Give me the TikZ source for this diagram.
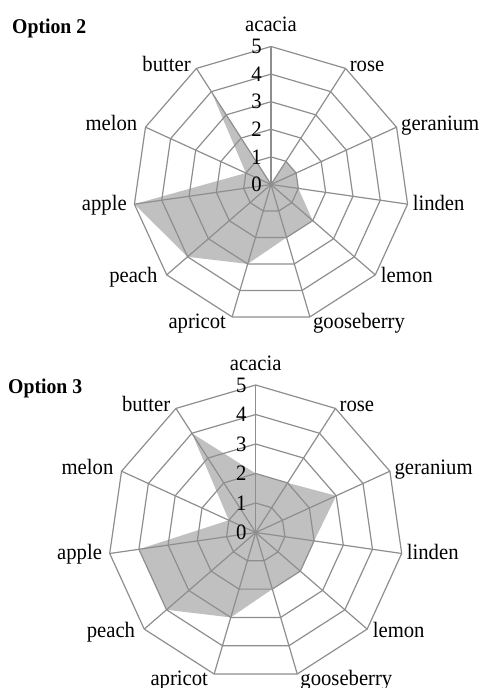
\documentclass[tikz,border=0pt]{standalone}
\usepackage{fontspec}
\setmainfont[FakeStretch=0.94]{Liberation Serif}
\definecolor{gridgray}{HTML}{8E8E8E}
\definecolor{areagray}{HTML}{C0C0C0}
\newcommand\myradar[5]{%
  % #1 name, #2 cx, #3 cy, #4 R, #5 values
  \coordinate (#1-c) at (#2,#3);
  \foreach \k in {1,...,5}{
    \foreach \i in {0,...,10}{
      \coordinate (#1-\k-\i) at ({#2+\k*#4/5*sin(\i*360/11)},{#3-\k*#4/5*cos(\i*360/11)});
    }
  }
  \foreach \v [count=\i from 0] in {#5}{
    \coordinate (#1-d\i) at ({#2+\v*#4/5*sin(\i*360/11)},{#3-\v*#4/5*cos(\i*360/11)});
  }
  \fill[area] (#1-d0) \foreach \i in {1,...,10}{ -- (#1-d\i)} -- cycle;
  \foreach \k in {1,...,5}{
    \draw[grid] (#1-\k-0) \foreach \i in {1,...,10}{ -- (#1-\k-\i)} -- cycle;
  }
  \foreach \i in {0,...,10}{
    \draw[grid] (#1-c) -- (#1-5-\i);
  }
  \foreach \k in {0,...,5}{
    \node[ticklab] (#1-t\k) at ({#2-9},{#3-\k*#4/5}) {\k};
  }
  \foreach \n/\a/\dx/\dy [count=\i from 0] in {acacia/base/0/-15, rose/base west/4/3.5,
      geranium/base west/4.5/3.5, linden/base west/5/6.5, lemon/base west/5.5/8,
      gooseberry/base west/3/11.5, apricot/base east/-6/11.5, peach/base east/-9/8,
      apple/base east/-7.5/6.5, melon/base east/-8/3.5, butter/base east/-5.5/3.5}{
    \node[cat, anchor=\a] (#1-l\i) at ([shift={(\dx,\dy)}]#1-5-\i) {\n};
  }
}
\begin{document}
\begin{tikzpicture}[x=1pt,y=-1pt,
  grid/.style={draw=gridgray, line width=1.2pt, line join=round},
  area/.style={fill=areagray},
  cat/.style={font=\fontsize{22}{26}\selectfont, inner sep=0pt},
  ticklab/.style={font=\fontsize{22}{26}\selectfont, anchor=east, inner sep=0pt},
  title/.style={font=\bfseries\fontsize{21}{25}\selectfont, anchor=base west, inner sep=0pt}]
\useasboundingbox (0,0) rectangle (482,688);
\node[title] (title2) at (12,33) {Option 2};
\myradar{A}{271}{184.5}{138}{0,1,1,1,2,2,3,4,5,1,4}
\node[title] (title3) at (8,393) {Option 3};
\myradar{B}{255.7}{532.5}{147.5}{2,2,3,2,2,2,3,4,4,1,4}
\end{tikzpicture}
\end{document}
